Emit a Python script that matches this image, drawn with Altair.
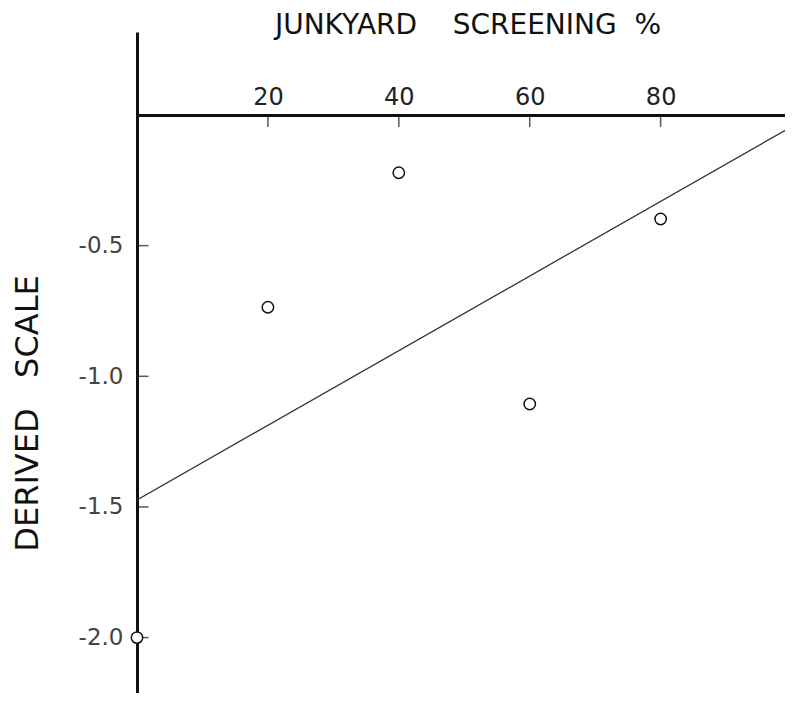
import altair as alt
import pandas as pd

# Observed points (junkyard screening %, derived scale value)
screening = [0, 20, 40, 60, 80]
derived = [-2.0, -0.736, -0.221, -1.106, -0.398]

# Fitted line end points
fit_x = [0, 100]
fit_y = [-1.473, -0.045]

# Tick values
x_ticks = [20, 40, 60, 80]
y_ticks = [-0.5, -1.0, -1.5, -2.0]

pts = pd.DataFrame({"x": screening, "y": derived})
fit = pd.DataFrame({"x": fit_x, "y": fit_y})
xt = pd.DataFrame({"x": x_ticks, "y": [0] * len(x_ticks)})
yt = pd.DataFrame({"x": [0] * len(y_ticks), "y": y_ticks})

XDOM = [0, 99]
YDOM = [-2.212, 0.3176]
FONT = "DejaVu Sans"

xs = alt.Scale(domain=XDOM, nice=False, zero=False)
ys = alt.Scale(domain=YDOM, nice=False, zero=False)

x_axis = alt.Axis(
    orient="top", offset=-83, values=x_ticks, format="d",
    domain=True, domainColor="#111", domainWidth=3,
    ticks=False, grid=False,
    labelFont=FONT, labelFontSize=24, labelColor="#222", labelPadding=6,
    title="JUNKYARD\u00a0\u00a0\u00a0\u00a0SCREENING\u00a0\u00a0%",
    titleFont=FONT, titleFontSize=28, titleFontWeight="normal", titleColor="#111",
    titleX=330.5, titleY=-90, titleBaseline="middle", titleAlign="center",
)
y_axis = alt.Axis(
    orient="left", values=y_ticks,
    labelExpr="(datum.value < 0 ? '-' : '') + format(abs(datum.value), '.1f')",
    domain=True, domainColor="#111", domainWidth=3,
    ticks=False, grid=False,
    labelFont=FONT, labelFontSize=23, labelColor="#444", labelPadding=14,
    title="DERIVED\u00a0\u00a0\u00a0SCALE",
    titleFont=FONT, titleFontSize=32, titleFontWeight="normal", titleColor="#111",
    titleX=-110, titleY=381, titleBaseline="middle", titleAlign="center", titleAngle=-90,
)

X = alt.X("x:Q", scale=xs, axis=x_axis)
Y = alt.Y("y:Q", scale=ys, axis=y_axis)

line = alt.Chart(fit).mark_line(color="#333", strokeWidth=1.3, clip=True).encode(x=X, y=Y)

xtick = alt.Chart(xt).mark_tick(orient="vertical", size=12, thickness=1.5, yOffset=6, color="#111").encode(x=X, y=Y)
ytick = alt.Chart(yt).mark_tick(orient="horizontal", size=11, thickness=1.5, xOffset=6, color="#111").encode(x=X, y=Y)

points = alt.Chart(pts).mark_point(shape="circle", size=130, filled=False, fill="white",
                                   fillOpacity=1, stroke="#111", strokeWidth=1.5, opacity=1).encode(x=X, y=Y)

chart = alt.layer(line, xtick, ytick, points).properties(
    width=648, height=661,
    autosize=alt.AutoSizeParams(type="none"),
    padding={"left": 129, "top": 24, "right": 0, "bottom": 0},
    background="white",
).configure_view(stroke=None)

chart.save("out.html", embed_options={"renderer": "svg", "actions": False})
